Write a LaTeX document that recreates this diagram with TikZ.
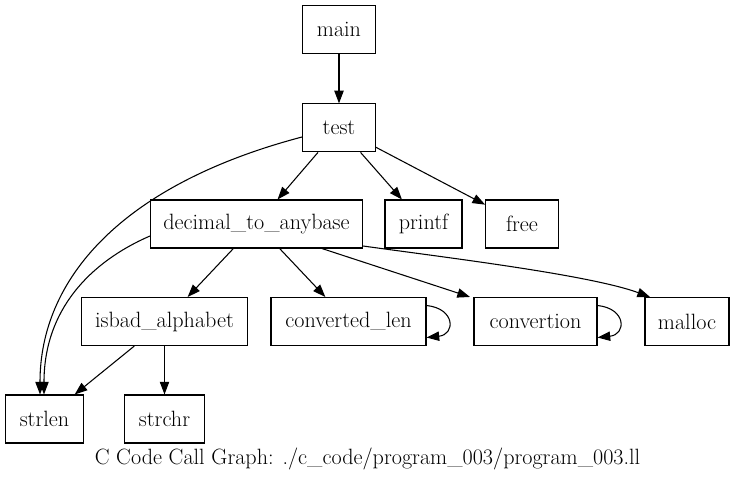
\documentclass[tikz,border=0pt]{standalone}
\usetikzlibrary{positioning, arrows.meta}
\tikzstyle{fn} = [rectangle, draw=black, line width=0.8pt, minimum height=36pt, inner sep=0pt, text centered, font=\fontsize{16.6}{19}\selectfont]
\tikzstyle{call} = [line width=0.8pt, -{Triangle[length=9.5pt, width=7pt]}]

\begin{document}
\begin{tikzpicture}[x=0.75pt, y=-0.75pt]
\useasboundingbox (0,0) rectangle (735,480);

\node (MAIN) [fn, minimum width=54.75pt] at (339,29.5) {main};
\node (TEST) [fn, minimum width=54.75pt, below=37pt of MAIN] {test};
\node (DECIMAL_TO_ANYBASE) [fn, minimum width=159pt] at (256.5,224) {decimal\_to\_anybase};
\node (PRINTF) [fn, minimum width=57.75pt] at (423.5,224) {printf};
\node (FREE) [fn, minimum width=54.5pt] at (522,224) {free};
\node (ISBAD_ALPHABET) [fn, minimum width=124.5pt] at (164.5,321.5) {isbad\_alphabet};
\node (CONVERTED_LEN) [fn, minimum width=116.25pt] at (348.5,321.5) {converted\_len};
\node (CONVERTION) [fn, minimum width=92.25pt] at (535.5,321.5) {convertion};
\node (MALLOC) [fn, minimum width=63pt] at (687,321.5) {malloc};
\node (STRLEN) [fn, minimum width=58.5pt] at (44.5,419) {strlen};
\node (STRCHR) [fn, minimum width=60pt] at (164.5,419) {strchr};
\node (CAPTION) [font=\fontsize{16.6}{19}\selectfont, inner sep=0pt] at (367.5,459) {C Code Call Graph: ./c\_code/program\_003/program\_003.ll};

\draw [call] (MAIN) -- (TEST);

\draw [call] (TEST) -- (DECIMAL_TO_ANYBASE);
\draw [call] (TEST) -- (PRINTF);
\draw [call] (TEST) -- (FREE);
\draw [call] (TEST.west |- 0,137) .. controls (120,185) and (40,280) .. (STRLEN.north -| 40,0);

\draw [call] (DECIMAL_TO_ANYBASE) -- (ISBAD_ALPHABET);
\draw [call] (DECIMAL_TO_ANYBASE) -- (CONVERTED_LEN);
\draw [call] (DECIMAL_TO_ANYBASE.south -| 322,0) -- (CONVERTION.north -| 470,0);
\draw [call] (DECIMAL_TO_ANYBASE.east |- 0,246) .. controls (450,258) and (590,275) .. (MALLOC.north -| 650,0);
\draw [call] (DECIMAL_TO_ANYBASE.west |- 0,236) .. controls (90,262) and (44,310) .. (STRLEN.north -| 44,0);

\draw [call] ([yshift=12pt]CONVERTED_LEN.east) .. controls +(29,3) and +(29,-3) .. ([yshift=-12pt]CONVERTED_LEN.east);
\draw [call] ([yshift=12pt]CONVERTION.east) .. controls +(29,3) and +(29,-3) .. ([yshift=-12pt]CONVERTION.east);

\draw [call] (ISBAD_ALPHABET) -- (STRLEN);
\draw [call] (ISBAD_ALPHABET) -- (STRCHR);

\end{tikzpicture}
\end{document}
